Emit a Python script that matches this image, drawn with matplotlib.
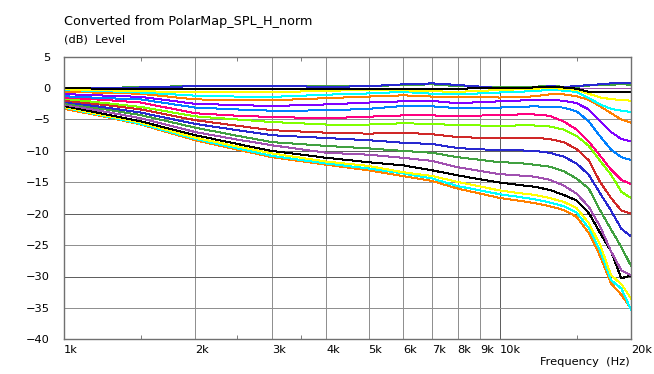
import numpy as np
import matplotlib
matplotlib.use("Agg")
import matplotlib.pyplot as plt
from matplotlib.ticker import FixedLocator, NullFormatter

freq = [1000, 1250, 1500, 2000, 2500, 3000, 4000, 5000, 6000, 7000, 8000,
        10000, 11000, 12000, 13000, 14000, 15000, 16000, 17000, 18000, 19000, 20000]

# curve values (dB)
ref_0 = [0, 0, 0, 0, 0, 0, 0, 0, 0, 0, 0, 0, 0, 0, 0, 0, 0, 0, 0, 0, 0, 0]
green_0 = [0, 0.0, 0.2, 0.3, 0.35, 0.35, 0.3, 0.3, 0.5, 0.6, 0.3,
           0.1, 0.1, 0.2, 0.4, 0.2, 0.2, 0.4, 0.55, 0.55, 0.6, 0.55]
blue_0 = [0, 0.0, 0.1, 0.3, 0.35, 0.35, 0.2, 0.3, 0.6, 0.75, 0.5,
          0.0, 0.05, 0.1, 0.3, 0.2, 0.3, 0.5, 0.6, 0.75, 0.8, 0.8]
black_1 = [0, -0.1, -0.1, -0.2, -0.2, -0.2, -0.15, -0.1, -0.1, -0.1, -0.1,
           0.05, 0.05, 0.1, 0.2, 0.1, -0.1, -0.6, -0.65, -0.65, -0.7, -0.7]
yellow_1 = [-0.2, -0.35, -0.5, -0.65, -0.7, -0.7, -0.4, -0.35, -0.35, -0.5, -0.6,
            -0.3, -0.2, -0.1, 0.0, -0.1, -0.3, -0.9, -1.5, -1.75, -1.9, -2.0]
cyan_1 = [-0.3, -0.5, -0.7, -1.2, -1.35, -1.4, -1.05, -0.85, -0.6, -0.9, -1.0,
          -0.7, -0.6, -0.45, -0.3, -0.4, -0.6, -1.6, -2.6, -3.3, -3.6, -3.8]
orange_1 = [-0.6, -0.75, -0.9, -1.8, -1.9, -1.95, -1.6, -1.35, -1.15, -1.35, -1.4,
            -1.5, -1.45, -1.3, -1.0, -1.0, -1.3, -1.85, -2.9, -4.0, -5.0, -5.5]
violet = [-0.95, -1.2, -1.4, -2.5, -2.7, -2.85, -2.6, -2.3, -2.1, -2.05, -2.4,
          -2.1, -2.0, -1.85, -1.9, -2.0, -2.4, -3.4, -5.3, -7.0, -8.1, -8.5]
azure = [-1.3, -1.6, -1.8, -3.1, -3.4, -3.6, -3.55, -3.3, -2.85, -2.9, -3.2,
         -3.1, -3.0, -2.9, -3.0, -3.1, -3.7, -5.3, -7.7, -9.8, -11.0, -11.45]
pink = [-1.5, -1.9, -2.3, -4.0, -4.4, -4.6, -4.8, -4.55, -4.35, -4.35, -4.45,
        -4.3, -4.2, -4.2, -4.4, -5.3, -6.6, -8.5, -10.8, -13.0, -14.6, -15.3]
lime = [-1.7, -2.4, -3.0, -4.5, -5.0, -5.4, -5.8, -5.8, -5.6, -5.7, -5.9,
        -6.0, -5.95, -5.95, -6.1, -6.6, -7.6, -9.2, -11.6, -13.8, -16.5, -17.5]
red = [-2.0, -2.7, -3.4, -5.1, -6.0, -6.7, -7.1, -7.25, -7.1, -7.35, -7.8,
       -8.0, -7.9, -7.9, -8.1, -8.6, -9.7, -11.5, -15.0, -17.5, -19.5, -20.0]
blue = [-2.2, -3.1, -3.9, -5.7, -6.7, -7.5, -7.95, -8.3, -8.7, -8.9, -9.55,
        -9.9, -9.9, -10.0, -10.3, -10.9, -12.0, -13.8, -16.8, -19.5, -22.4, -23.6]
green = [-2.4, -3.4, -4.3, -6.3, -7.6, -8.6, -9.2, -9.6, -10.0, -10.3, -11.0,
         -11.8, -11.9, -12.2, -12.5, -13.2, -14.4, -16.0, -19.5, -22.5, -25.3, -28.3]
orchid = [-2.6, -3.8, -4.8, -7.0, -8.2, -9.1, -10.3, -10.6, -11.1, -11.6, -12.6,
          -13.7, -13.9, -14.1, -14.6, -15.5, -16.8, -18.9, -22.1, -26.0, -29.0, -29.8]
black_2 = [-2.85, -4.2, -5.3, -7.5, -8.9, -10.0, -11.1, -11.8, -12.3, -13.1, -13.9,
           -15.05, -15.4, -15.7, -16.2, -17.0, -17.9, -19.9, -23.1, -26.0, -30.3, -29.8]
yellow_2 = [-3.0, -4.4, -5.5, -7.9, -9.3, -10.4, -11.7, -12.4, -13.4, -14.0, -14.95,
            -16.3, -16.7, -17.0, -17.5, -18.1, -19.1, -21.5, -25.0, -29.8, -31.2, -33.5]
cyan_2 = [-3.1, -4.5, -5.7, -8.1, -9.6, -10.8, -12.0, -12.8, -13.6, -14.4, -15.6,
          -16.9, -17.3, -17.7, -18.2, -18.8, -19.8, -22.3, -26.0, -30.6, -31.9, -35.3]
orange_2 = [-3.3, -4.6, -5.8, -8.3, -9.8, -11.0, -12.2, -13.1, -14.0, -14.8, -16.0,
            -17.5, -17.9, -18.3, -18.8, -19.4, -20.5, -23.1, -26.8, -31.1, -32.9, -35.1]

curves = [
    (ref_0, "#a050b0"), (green_0, "#40a040"), (blue_0, "#2828d0"),
    (orange_2, "#ff8000"), (cyan_2, "#00ffff"), (yellow_2, "#ffff00"),
    (black_2, "#000000"), (orchid, "#a050b0"), (green, "#40a040"),
    (blue, "#2828d0"), (red, "#d02828"), (lime, "#80ff00"),
    (pink, "#ff0080"), (azure, "#0080ff"), (violet, "#8000ff"),
    (orange_1, "#ff8000"), (cyan_1, "#00ffff"), (yellow_1, "#ffff00"),
    (black_1, "#000000"),
]

y_ticks = [5, 0, -5, -10, -15, -20, -25, -30, -35, -40]
x_ticks = [1000, 2000, 3000, 4000, 5000, 6000, 7000, 8000, 9000, 10000, 20000]
x_labels = ["1k", "2k", "3k", "4k", "5k", "6k", "7k", "8k", "9k", "10k", "20k"]

fig = plt.figure(figsize=(6.54, 3.74), dpi=100)
ax = fig.add_axes([64 / 654, 1 - 339.3 / 374, 567 / 654, (339.3 - 56.7) / 374])

# grid
for f in x_ticks[1:-1]:
    ax.axvline(f, color="#606060" if f == 10000 else "#909090", lw=0.72,
               antialiased=False, zorder=0)
for v in y_ticks[1:-1]:
    ax.axhline(v, color="#606060" if v % 10 == 0 else "#909090", lw=0.72,
               antialiased=False, zorder=0)

for vals, col in curves:
    ax.plot(freq, vals, color=col, lw=0.72, antialiased=False)

ax.set_xscale("log")
ax.set_xlim(1000, 20000)
ax.set_ylim(-40, 5)
ax.xaxis.set_major_locator(FixedLocator(x_ticks))
ax.set_xticklabels(x_labels)
ax.xaxis.set_minor_locator(FixedLocator([1500, 2500, 3500, 15000]))
ax.xaxis.set_minor_formatter(NullFormatter())
ax.set_yticks(y_ticks)
ax.tick_params(axis="x", which="major", length=0, pad=4, labelsize=8.2)
ax.tick_params(axis="x", which="minor", direction="in", length=3, top=True,
               color="#808080", width=0.72)
ax.tick_params(axis="y", length=0, pad=10, labelsize=8.2)
for lab in ax.get_xticklabels():
    lab.set_horizontalalignment("left")
for s in ax.spines.values():
    s.set_color("#707070")
    s.set_linewidth(1.0)

fig.text(64 / 654, 1 - 21 / 374, "Converted from PolarMap_SPL_H_norm", fontsize=9.2,
         va="center", ha="left")
fig.text(64 / 654, 1 - 40 / 374, "(dB)  Level", fontsize=8.2, va="center", ha="left")
fig.text(630 / 654, 1 - 362 / 374, "Frequency  (Hz)", fontsize=8.2, va="center",
         ha="right")

fig.savefig("out.png", dpi=100)
